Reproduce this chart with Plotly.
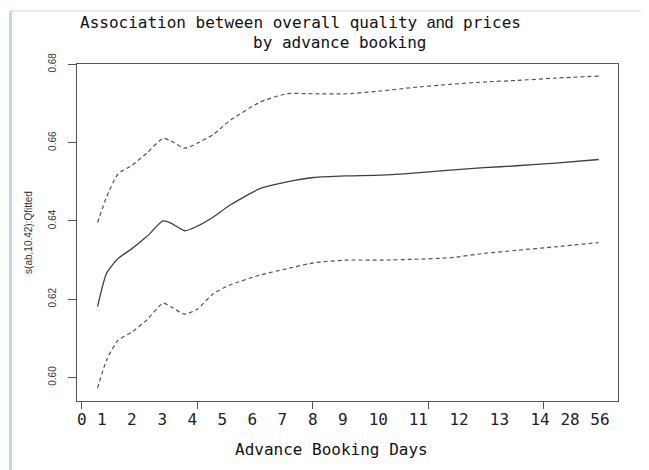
import plotly.graph_objects as go

# position along the booking axis (axis units, ticks every 10)
x_pos = [1.37, 2.16, 3.14, 4.29, 5.63, 7.04, 7.76, 8.91, 9.97, 11.39, 12.81,
         15.47, 17.78, 20.09, 22.93, 25.86, 28.70, 31.90, 34.82, 37.66, 41.03, 44.76]

fitted = [0.6181, 0.6267, 0.6304, 0.6328, 0.6360, 0.6400, 0.6394, 0.6375, 0.6386,
          0.6410, 0.6440, 0.6483, 0.6500, 0.6511, 0.6515, 0.6517, 0.6522, 0.6530,
          0.6536, 0.6541, 0.6548, 0.6557]

upper = [0.6396, 0.6462, 0.6520, 0.6541, 0.6573, 0.6611, 0.6604, 0.6586, 0.6598,
         0.6621, 0.6656, 0.6704, 0.6725, 0.6725, 0.6725, 0.6732, 0.6741, 0.6749,
         0.6755, 0.6759, 0.6765, 0.6770]

lower = [0.5973, 0.6045, 0.6095, 0.6115, 0.6147, 0.6190, 0.6180, 0.6162, 0.6174,
         0.6214, 0.6236, 0.6262, 0.6278, 0.6293, 0.6300, 0.6300, 0.6302, 0.6306,
         0.6317, 0.6325, 0.6334, 0.6345]

day_labels = ["0", "1", "2", "3", "4", "5", "6", "7", "8", "9", "10", "11", "12",
              "13", "14", "28", "56"]
day_label_pos = [0, 1.73, 4.33, 6.98, 9.58, 12.17, 14.77, 17.37, 20.0, 22.6, 25.68,
                 29.14, 32.67, 36.16, 39.68, 42.28, 44.87]
major_ticks = [0, 10, 20, 30, 40]
y_ticks = [0.60, 0.62, 0.64, 0.66, 0.68]
y_tick_text = ["0.60", "0.62", "0.64", "0.66", "0.68"]

X_RANGE = [-0.41, 46.43]
Y_RANGE = [0.5940, 0.6801]

MONO = "DejaVu Sans Mono, monospace"
SANS = "Liberation Sans, Arial, sans-serif"

fig = go.Figure()
fig.add_trace(go.Scatter(x=x_pos, y=upper, mode="lines",
                         line=dict(color="#555555", width=1.2, dash="4px,3px", shape="spline", smoothing=0.6),
                         showlegend=False, hoverinfo="skip"))
fig.add_trace(go.Scatter(x=x_pos, y=fitted, mode="lines",
                         line=dict(color="#404040", width=1.3, shape="spline", smoothing=0.6),
                         showlegend=False))
fig.add_trace(go.Scatter(x=x_pos, y=lower, mode="lines",
                         line=dict(color="#555555", width=1.2, dash="4px,3px", shape="spline", smoothing=0.6),
                         showlegend=False, hoverinfo="skip"))
# carrier for the tick-mark axis
fig.add_trace(go.Scatter(x=[None], y=[None], xaxis="x2", mode="lines",
                         showlegend=False, hoverinfo="skip"))

fig.update_layout(
    width=649, height=470,
    margin=dict(l=69, r=39, t=56, b=77),
    paper_bgcolor="white", plot_bgcolor="white",
    font=dict(family=SANS, color="#333333"),
    xaxis=dict(range=X_RANGE, tickmode="array", tickvals=day_label_pos, ticktext=day_labels,
               ticks="", showgrid=False, zeroline=False, showline=True, mirror=True,
               linecolor="#555555", linewidth=1,
               tickfont=dict(family=MONO, size=16, color="#222222"),
               ticklabelstandoff=4),
    xaxis2=dict(range=X_RANGE, overlaying="x", anchor="y", side="bottom",
                tickmode="array", tickvals=major_ticks, ticks="outside", ticklen=7,
                tickcolor="#555555", tickwidth=1, showticklabels=False,
                showgrid=False, zeroline=False, showline=False),
    yaxis=dict(range=Y_RANGE, tickmode="array", tickvals=y_ticks, ticktext=y_tick_text,
               ticks="outside", ticklen=8, tickcolor="#555555", tickwidth=1,
               tickangle=-90, tickfont=dict(family=SANS, size=10, color="#333333"),
               ticklabelstandoff=8,
               showgrid=False, zeroline=False, showline=True, mirror=True,
               linecolor="#555555", linewidth=1,
               title=dict(text="s(ab,10.42):Qfitted", font=dict(family=SANS, size=10, color="#333333"),
                          standoff=12)),
    annotations=[
        dict(text='Association between overall quality <span style="font-family:Liberation Sans, Arial">and</span> prices',
             xref="paper", yref="paper", x=0.4137, y=1.1237, xanchor="center", yanchor="middle",
             showarrow=False, font=dict(family=MONO, size=16, color="#111111")),
        dict(text="by advance booking",
             xref="paper", yref="paper", x=0.486, y=1.0632, xanchor="center", yanchor="middle",
             showarrow=False, font=dict(family=MONO, size=16, color="#111111")),
        dict(text="Advance Booking Days",
             xref="paper", yref="paper", x=0.4708, y=-0.1454, xanchor="center", yanchor="middle",
             showarrow=False, font=dict(family=MONO, size=16, color="#111111")),
    ],
    shapes=[
        dict(type="line", xref="paper", yref="paper", x0=-0.1229, x1=-0.1229, y0=1.1573, y1=-0.23,
             line=dict(color="#c3d5ef", width=3)),
        dict(type="line", xref="paper", yref="paper", x0=-0.1229, x1=1.08, y0=1.1573, y1=1.1573,
             line=dict(color="#c9d9f0", width=1)),
    ],
)

fig.write_html("out.html")
